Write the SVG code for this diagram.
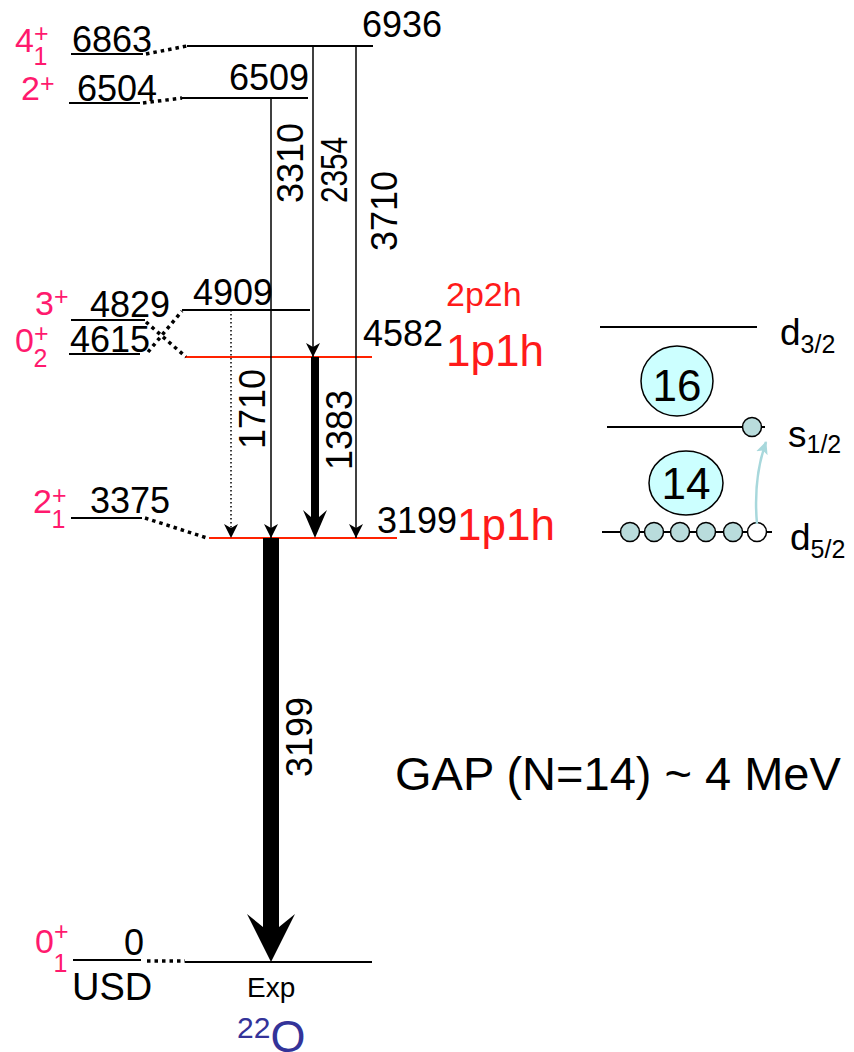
<svg xmlns="http://www.w3.org/2000/svg" width="854" height="1052" viewBox="0 0 854 1052">
<style>
text{font-family:"Liberation Sans",Arial,sans-serif;}
.num{font-size:36px;fill:#000;}
.pk{font-size:34px;fill:#ff1a6e;}
.pks{font-size:25px;fill:#ff1a6e;}
.lv{stroke:#000;stroke-width:2;fill:none;}
.red{stroke:#ff2200;stroke-width:2;fill:none;}
.dots{stroke:#000;stroke-width:3.5;stroke-dasharray:3.5 4;fill:none;}
.tr{stroke:#000;stroke-width:1.5;fill:none;}
.trd{stroke:#000;stroke-width:1.5;stroke-dasharray:1.5 2.5;fill:none;}
.rl{font-size:36px;fill:#000;text-anchor:middle;}
.shl{stroke:#000;stroke-width:2;fill:none;}
.part{fill:#b9dcdc;stroke:#000;stroke-width:1.5;}
.hole{fill:#fff;stroke:#000;stroke-width:1.5;}
.big{fill:#ccffff;stroke:#000;stroke-width:1.5;}
</style>
<defs>
<marker id="ah" markerUnits="userSpaceOnUse" markerWidth="14" markerHeight="14" viewBox="0 0 14 14" refX="14" refY="7" orient="auto">
<path d="M0,0 L14,7 L0,14 L4,7 Z" fill="#000"/>
</marker>
<marker id="ahb" markerUnits="userSpaceOnUse" markerWidth="14" markerHeight="14" viewBox="0 0 14 14" refX="12" refY="7" orient="auto">
<path d="M0,1 L13,7 L0,13 L3,7 Z" fill="#a8d8dc"/>
</marker>
</defs>

<g id="usd-levels">
<line class="lv" x1="71" y1="54" x2="143" y2="54"/>
<line class="lv" x1="69" y1="103" x2="140" y2="103"/>
<line class="lv" x1="71" y1="320" x2="145" y2="320"/>
<line class="lv" x1="69" y1="354" x2="140" y2="354"/>
<line class="lv" x1="71" y1="518" x2="142" y2="518"/>
<line class="lv" x1="73" y1="960" x2="141" y2="960"/>
<text class="num" x="72" y="52">6863</text>
<text class="num" x="77" y="101">6504</text>
<text class="num" x="90" y="317">4829</text>
<text class="num" x="70" y="352">4615</text>
<text class="num" x="90" y="513">3375</text>
<text class="num" x="124" y="955">0</text>
<text x="72" y="1000" style="font-size:38px">USD</text>
</g>

<g id="spin-labels">
<text class="pk" x="15" y="52">4<tspan class="pks" dy="-10">+</tspan><tspan class="pks" dx="-15" dy="23">1</tspan></text>
<text class="pk" x="21" y="100">2<tspan class="pks" dy="-8">+</tspan></text>
<text class="pk" x="35" y="315">3<tspan class="pks" dy="-10">+</tspan></text>
<text class="pk" x="15" y="352">0<tspan class="pks" dy="-10">+</tspan><tspan class="pks" dx="-15" dy="25">2</tspan></text>
<text class="pk" x="33" y="513">2<tspan class="pks" dy="-9">+</tspan><tspan class="pks" dx="-15" dy="24">1</tspan></text>
<text class="pk" x="35" y="953">0<tspan class="pks" dy="-13">+</tspan><tspan class="pks" dx="-15" dy="32">1</tspan></text>
</g>

<g id="exp-levels">
<line class="lv" x1="187" y1="46" x2="373" y2="46"/>
<line class="lv" x1="182" y1="98" x2="308" y2="98"/>
<line class="lv" x1="182" y1="310" x2="310" y2="310"/>
<line class="red" x1="185" y1="357" x2="372" y2="357"/>
<line class="red" x1="209" y1="538" x2="397" y2="538"/>
<line class="lv" x1="185" y1="962" x2="372" y2="962"/>
<text class="num" x="362" y="37">6936</text>
<text class="num" x="229" y="90">6509</text>
<text class="num" x="193" y="305">4909</text>
<text class="num" x="363" y="346">4582</text>
<text class="num" x="377" y="533">3199</text>
<text x="247" y="997" style="font-size:28px">Exp</text>
<text x="237" y="1052" style="font-size:45px;fill:#333399"><tspan style="font-size:30px" dy="-14">22</tspan><tspan dy="14">O</tspan></text>
</g>

<g id="config-labels">
<text x="446" y="306" style="font-size:34px;fill:#ff1a1a">2p2h</text>
<text x="446" y="366" style="font-size:44px;fill:#ff1a1a">1p1h</text>
<text x="457" y="540" style="font-size:44px;fill:#ff1a1a">1p1h</text>
<text x="395" y="790" style="font-size:47px">GAP (N=14) ~ 4 MeV</text>
</g>

<g id="connectors">
<line class="dots" x1="146" y1="54" x2="187" y2="46"/>
<line class="dots" x1="143" y1="103" x2="182" y2="98"/>
<line class="dots" x1="146" y1="322" x2="186" y2="357"/>
<line class="dots" x1="148" y1="352" x2="182" y2="311"/>
<line class="dots" x1="145" y1="518" x2="207" y2="538"/>
<line class="dots" x1="147" y1="961" x2="185" y2="961"/>
<line class="tr" x1="271" y1="98" x2="271" y2="538" marker-end="url(#ah)"/>
<line class="tr" x1="313" y1="46" x2="313" y2="357" marker-end="url(#ah)"/>
<line class="tr" x1="356" y1="46" x2="356" y2="538" marker-end="url(#ah)"/>
<line class="trd" x1="231" y1="310" x2="231" y2="538" marker-end="url(#ah)"/>
<path d="M311,357 L319,357 L319,517 L327,510 L315,538 L303,510 L311,517 Z" fill="#000"/>
<path d="M263,538 L279,538 L279,927 L295,914 L271,962 L247,914 L263,927 Z" fill="#000"/>
<text class="rl" transform="translate(303,163) rotate(-90)">3310</text>
<text class="rl" transform="translate(347,170) rotate(-90)" textLength="66" lengthAdjust="spacingAndGlyphs">2354</text>
<text class="rl" transform="translate(397,211) rotate(-90)">3710</text>
<text class="rl" transform="translate(265,409) rotate(-90)">1710</text>
<text class="rl" transform="translate(352,430) rotate(-90)">1383</text>
<text class="rl" transform="translate(312,737) rotate(-90)">3199</text>
</g>

<g id="shell-model">
<line class="shl" x1="600" y1="327" x2="757" y2="327"/>
<line class="shl" x1="607" y1="427" x2="765" y2="427"/>
<line class="shl" x1="602" y1="532" x2="772" y2="532"/>
<ellipse class="big" cx="677" cy="381" rx="36" ry="35"/>
<text x="677" y="401" style="font-size:44px;text-anchor:middle">16</text>
<ellipse class="big" cx="686" cy="483" rx="37" ry="32"/>
<text x="686" y="499" style="font-size:44px;text-anchor:middle">14</text>
<circle class="part" cx="752" cy="427" r="9.5"/>
<circle class="part" cx="630" cy="532" r="9.5"/>
<circle class="part" cx="654" cy="532" r="9.5"/>
<circle class="part" cx="680" cy="532" r="9.5"/>
<circle class="part" cx="706" cy="532" r="9.5"/>
<circle class="part" cx="733" cy="532" r="9.5"/>
<circle class="hole" cx="757" cy="532" r="9.5"/>
<path d="M757,524 Q753,478 766,442" stroke="#a8d8dc" stroke-width="2.5" fill="none" marker-end="url(#ahb)"/>
<text x="780" y="345" style="font-size:37px">d<tspan style="font-size:25px" dy="8">3/2</tspan></text>
<text x="788" y="447" style="font-size:37px">s<tspan style="font-size:25px" dy="6">1/2</tspan></text>
<text x="790" y="550" style="font-size:37px">d<tspan style="font-size:25px" dy="8">5/2</tspan></text>
</g>
</svg>
